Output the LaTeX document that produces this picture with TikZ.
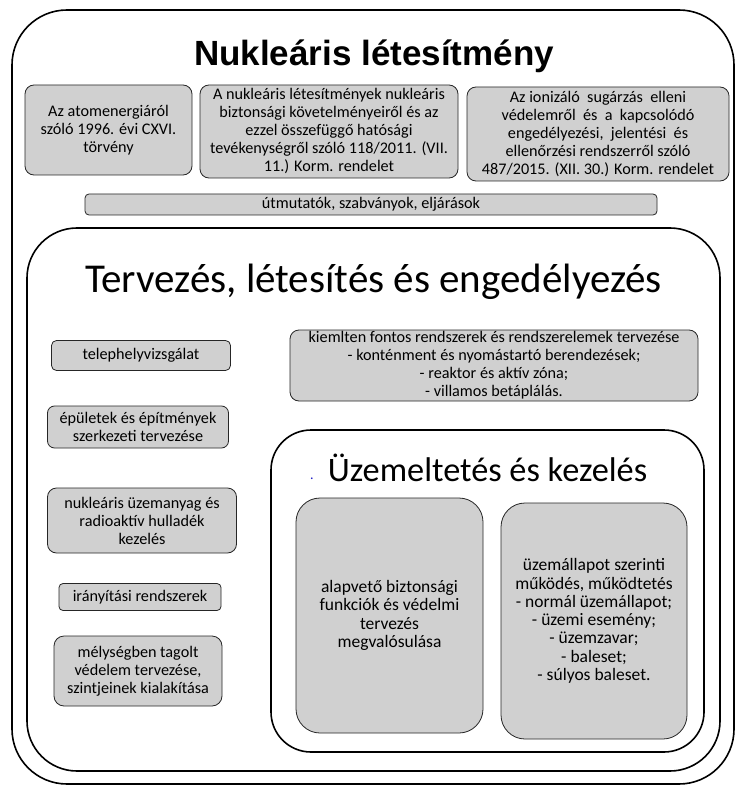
\documentclass[tikz,border=0pt]{standalone}
\usepackage{fontspec}
\setmainfont{Carlito}
\newfontfamily\titlefont{Liberation Sans}
\usepackage{tikz}
\usetikzlibrary{positioning}
\definecolor{boxgray}{RGB}{208,208,208}
\definecolor{dotblue}{RGB}{30,30,200}

\begin{document}
\begin{tikzpicture}[x=1pt,y=-1pt,
    frame/.style={draw=black, line width=1.6pt, fill=white, inner sep=0pt},
    graybox/.style={draw=black!85, line width=0.8pt, fill=boxgray, rounded corners=9pt, align=center, inner sep=0pt,
        font=\fontsize{16.2}{18}\selectfont},
    tallbox/.style={graybox, rounded corners=24pt, font=\fontsize{17.5}{18.3}\selectfont},
    bigtitle/.style={anchor=base, inner sep=0pt}]
        \useasboundingbox (0,0) rectangle (742,794);
        %keretek
        \node[frame, rounded corners=55pt, minimum width=722pt, minimum height=774pt] (outer) at (373,397) {};
        \node[frame, rounded corners=50pt, minimum width=693pt, minimum height=543pt] (terv) at (373.5,499.5) {};
        \node[frame, rounded corners=40pt, minimum width=433pt, minimum height=322pt] (uzem) at (487.5,591) {};
        %cimek
        \node[bigtitle, font=\titlefont\bfseries\fontsize{35}{40}\selectfont] (titleouter) at (374,66) {Nukleáris létesítmény};
        \node[bigtitle, font=\fontsize{41}{46}\selectfont] (titleterv) at (373.5,292) {Tervezés, létesítés és engedélyezés};
        \node[bigtitle, font=\fontsize{34.3}{40}\selectfont] (titleuzem) at (487.5,481) {Üzemeltetés és kezelés};
        \node[bigtitle, text=dotblue, font=\fontsize{14}{16}\selectfont] (dot) at (312,479) {.};
        %jogszabalyok
        \node[graybox, minimum width=167pt, minimum height=90pt] (atom) at (108.5,130) {Az atomenergiáról\\szóló 1996. évi CXVI.\\törvény};
        \node[graybox, minimum width=258pt, minimum height=93pt] (korm1) at (329,131.5) {A nukleáris létesítmények nukleáris\\biztonsági követelményeiről és az\\ezzel összefüggő hatósági\\tevékenységről szóló 118/2011. (VII.\\11.) Korm. rendelet};
        \node[graybox, minimum width=262pt, minimum height=94pt] (korm2) at (598,134) {Az ionizáló\ \ sugárzás\ \ elleni\\védelemről\ \ és\ \ a\ \ kapcsolódó\\engedélyezési,\ \ jelentési\ \ és\\ellenőrzési rendszerről szóló\\487/2015. (XII. 30.) Korm. rendelet};
        \node[graybox, rounded corners=4pt, minimum width=572pt, minimum height=21pt] (utmut) at (371,204.5) {útmutatók, szabványok, eljárások};
        %tervezes
        \node[graybox, rounded corners=5pt, minimum width=179pt, minimum height=30pt] (telep) at (141,355.5) {telephelyvizsgálat};
        \node[graybox, rounded corners=7pt, minimum width=181pt, minimum height=42pt] (epulet) at (138,427) {épületek és építmények\\szerkezeti tervezése};
        \node[graybox, rounded corners=9pt, minimum width=189pt, minimum height=65pt] (uzemanyag) at (142,520.5) {nukleáris üzemanyag és\\radioaktív hulladék\\kezelés};
        \node[graybox, rounded corners=4pt, minimum width=162pt, minimum height=27pt] (iranyit) at (140,597) {irányítási rendszerek};
        \node[graybox, rounded corners=10pt, minimum width=168pt, minimum height=70pt] (melyseg) at (138,671) {mélységben tagolt\\védelem tervezése,\\szintjeinek kialakítása};
        \node[graybox, minimum width=408pt, minimum height=71pt] (kiemelt) at (494,365.5) {kiemlten fontos rendszerek és rendszerelemek tervezése\\- konténment és nyomástartó berendezések;\\- reaktor és aktív zóna;\\- villamos betáplálás.};
        %uzemeltetes
        \node[tallbox, minimum width=187pt, minimum height=235pt] (alap) at (389.5,615.5) {alapvető biztonsági\\funkciók és védelmi\\tervezés\\megvalósulása};
        \node[tallbox, minimum width=186pt, minimum height=236pt] (allapot) at (594,621) {üzemállapot szerinti\\működés, működtetés\\- normál üzemállapot;\\- üzemi esemény;\\- üzemzavar;\\- baleset;\\- súlyos baleset.};
    \end{tikzpicture}
\end{document}
